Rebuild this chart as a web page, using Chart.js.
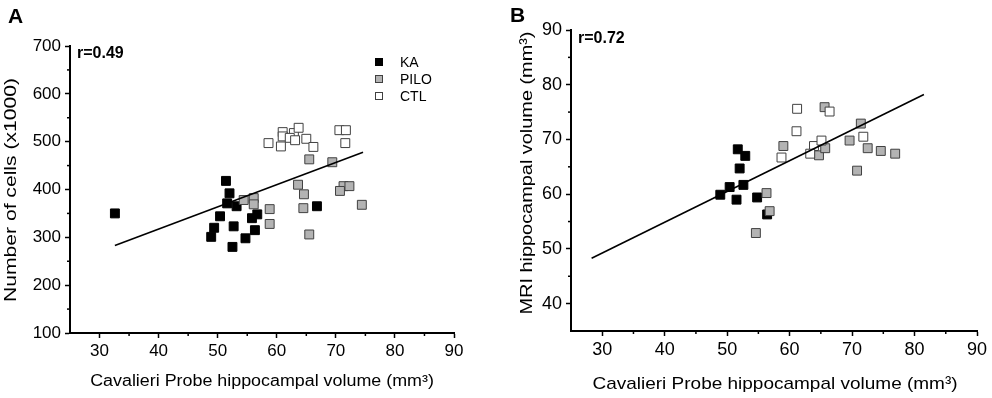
<!DOCTYPE html>
<html><head><meta charset="utf-8">
<script src="https://cdn.jsdelivr.net/npm/chart.js@4.4.0/dist/chart.umd.min.js"></script>
<style>
html,body{margin:0;padding:0;background:#fff;}
#wrap{position:relative;width:992px;height:398px;overflow:hidden;font-family:"Liberation Sans",Arial,sans-serif;color:#000;}
canvas{position:absolute;top:0;}
#cA{left:0;} #cB{left:496px;}
.pl{position:absolute;font-weight:bold;font-size:21px;line-height:21px;}
.rl{position:absolute;font-weight:bold;font-size:16px;line-height:16px;}
#legend{position:absolute;left:375px;top:54px;font-size:14px;}
.li{position:relative;height:17px;line-height:17px;}
.sw{position:absolute;left:0;top:4px;width:8px;height:8px;box-sizing:border-box;border:1px solid #333;}
.lt{position:absolute;left:25px;top:0;white-space:nowrap;}
</style></head>
<body><div id="wrap">
<canvas id="cA" width="496" height="398"></canvas>
<canvas id="cB" width="496" height="398"></canvas>
<div class="pl" style="left:8px;top:5px;">A</div>
<div class="pl" style="left:510px;top:4px;">B</div>
<div class="rl" style="left:77px;top:45px;">r=0.49</div>
<div class="rl" style="left:578px;top:30px;">r=0.72</div>
<div id="legend"></div>
</div>
<script>
// ---- data ----
const groups = ['KA','PILO','CTL'];
const xTicks = [30,40,50,60,70,80,90];
const xMinor = [35,45,55,65,75,85];
const yTicksA = [100,200,300,400,500,600,700];
const yMinorA = [150,250,350,450,550,650];
const yTicksB = [40,50,60,70,80,90];
const yMinorB = [45,55,65,75,85];

// Panel A: Cavalieri volume vs number of cells (x1000)
const kaCavA   = [32.6,51.4,52.0,51.6,53.2,50.4,49.4,48.9,52.7,52.5,54.7,56.3,55.8,56.7,66.8];
const kaCellsA = [350,418,392,371,365,344,320,301,323,280,298,315,340,348,365];
const piloCavA   = [54.4,56.1,56.1,58.8,58.8,63.6,64.6,64.5,65.5,65.5,69.4,71.3,72.3,70.7,74.4];
const piloCellsA = [378,382,369,359,328,410,390,361,306,463,457,407,407,397,368];
const ctlCavA   = [58.6,60.7,61.0,61.0,62.9,63.7,62.2,63.1,65.0,66.2,70.6,71.7,71.6];
const ctlCellsA = [497,490,520,511,518,529,508,503,506,489,524,524,497];
const fitCavA = [32.6,74.6];
const fitCellsA = [283,478];

// Panel B: Cavalieri volume vs MRI volume
const kaCavB = [51.7,52.9,52.0,50.4,48.9,52.6,51.5,54.8,56.4];
const kaMriB = [68.2,67.0,64.7,61.3,59.9,61.7,59.0,59.4,56.3];
const piloCavB = [56.3,56.8,54.6,59.0,64.7,65.7,69.6,72.5,74.6,76.9,70.8,65.6,71.4];
const piloMriB = [60.2,56.9,52.9,68.8,67.1,68.4,69.8,68.4,67.9,67.4,64.3,75.9,72.9];
const ctlCavB = [61.2,66.4,61.1,71.8,58.7,63.9,65.1,63.3];
const ctlMriB = [75.6,75.1,71.5,70.5,66.7,68.8,69.8,67.4];
const fitCavB = [28.3,81.5];
const fitMriB = [48.3,78.2];

// ---- styling ----
const FONT = '"Liberation Sans", Arial, sans-serif';
const fills = ['#000000','#b3b3b3','#ffffff'];
const borders = ['#000000','#404040','#404040'];

const leg = document.getElementById('legend');
groups.forEach((g,i)=>{
  const d=document.createElement('div'); d.className='li';
  const s=document.createElement('span'); s.className='sw'; s.style.background=fills[i]; s.style.borderColor=borders[i];
  const t=document.createElement('span'); t.className='lt'; t.textContent=g;
  d.appendChild(s); d.appendChild(t); leg.appendChild(d);
});

function zip(xs,ys){return xs.map((x,i)=>({x:x,y:ys[i]}));}

const extras = {
  id:'extras',
  afterDraw(chart, args, o){
    const ctx=chart.ctx, xs=chart.scales.x, ys=chart.scales.y;
    ctx.save();
    ctx.strokeStyle='#000'; ctx.lineWidth=1.5;
    o.xMinor.forEach(v=>{const p=xs.getPixelForValue(v); ctx.beginPath(); ctx.moveTo(p,xs.top); ctx.lineTo(p,xs.top+3); ctx.stroke();});
    o.yMinor.forEach(v=>{const p=ys.getPixelForValue(v); ctx.beginPath(); ctx.moveTo(ys.right,p); ctx.lineTo(ys.right-3,p); ctx.stroke();});
    ctx.fillStyle='#000';
    ctx.font = o.titleSize+'px '+FONT;
    ctx.textAlign='center'; ctx.textBaseline='middle';
    ctx.save();
    ctx.translate(o.xTitlePos[0], o.xTitlePos[1]);
    ctx.scale(o.xStretch,1);
    ctx.fillText(o.xTitle, 0, 0);
    ctx.restore();
    ctx.translate(o.yTitlePos[0], o.yTitlePos[1]);
    ctx.rotate(-Math.PI/2);
    ctx.scale(o.yStretch,1);
    ctx.fillText(o.yTitle, 0, 0);
    ctx.restore();
  }
};

function makeChart(id, sets, fit, xr, yr, yT, yW, xH, pad, fontSize, ex){
  const ds = [];
  ds.push({type:'line', label:'fit', data:zip(fit[0],fit[1]), borderColor:'#000', borderWidth:1.6, pointRadius:0, showLine:true, fill:false, order:0});
  sets.forEach((s,i)=>{
    ds.push({type:'scatter', label:groups[i], data:zip(s[0],s[1]), pointStyle:'rect', pointRadius:6.3, pointHoverRadius:6.3,
      backgroundColor:fills[i], borderColor:borders[i], borderWidth:1, order:3-i});
  });
  return new Chart(document.getElementById(id), {
    type:'scatter',
    data:{datasets:ds},
    options:{
      responsive:false, animation:false, devicePixelRatio:1,
      layout:{padding:pad},
      plugins:{legend:{display:false}, tooltip:{enabled:false}, extras:ex},
      scales:{
        x:{type:'linear', min:xr[0], max:xr[1],
          afterBuildTicks:s=>{s.ticks=xTicks.map(v=>({value:v}));},
          afterFit:s=>{s.height=xH;},
          grid:{display:true, drawOnChartArea:false, drawTicks:true, tickLength:5, tickWidth:1.5, tickColor:'#000'},
          border:{display:true, color:'#000', width:2},
          ticks:{color:'#000', font:{family:FONT, size:fontSize}, padding:3, maxRotation:0, autoSkip:false}},
        y:{type:'linear', min:yr[0], max:yr[1],
          afterBuildTicks:s=>{s.ticks=yT.map(v=>({value:v}));},
          afterFit:s=>{s.width=yW;},
          grid:{display:true, drawOnChartArea:false, drawTicks:true, tickLength:5, tickWidth:1.5, tickColor:'#000'},
          border:{display:true, color:'#000', width:2},
          ticks:{color:'#000', font:{family:FONT, size:fontSize}, padding:4, autoSkip:false}}
      }
    },
    plugins:[extras]
  });
}

makeChart('cA', [[kaCavA,kaCellsA],[piloCavA,piloCellsA],[ctlCavA,ctlCellsA]], [fitCavA,fitCellsA],
  [25,90],[100,700], yTicksA, 70, 65, {left:0,right:42,top:46,bottom:0}, 17,
  {xMinor:xMinor, yMinor:yMinorA, titleSize:16, xStretch:1.117, yStretch:1.32,
   xTitle:'Cavalieri Probe hippocampal volume (mm³)', xTitlePos:[262,382],
   yTitle:'Number of cells (x1000)', yTitlePos:[12,190]});

makeChart('cB', [[kaCavB,kaMriB],[piloCavB,piloMriB],[ctlCavB,ctlMriB]], [fitCavB,fitMriB],
  [25,90],[35,90], yTicksB, 75, 67, {left:0,right:15,top:30,bottom:0}, 18,
  {xMinor:xMinor, yMinor:yMinorB, titleSize:17, xStretch:1.117, yStretch:1.17,
   xTitle:'Cavalieri Probe hippocampal volume (mm³)', xTitlePos:[279,384],
   yTitle:'MRI hippocampal volume (mm³)', yTitlePos:[31,173]});
</script>
</body></html>
